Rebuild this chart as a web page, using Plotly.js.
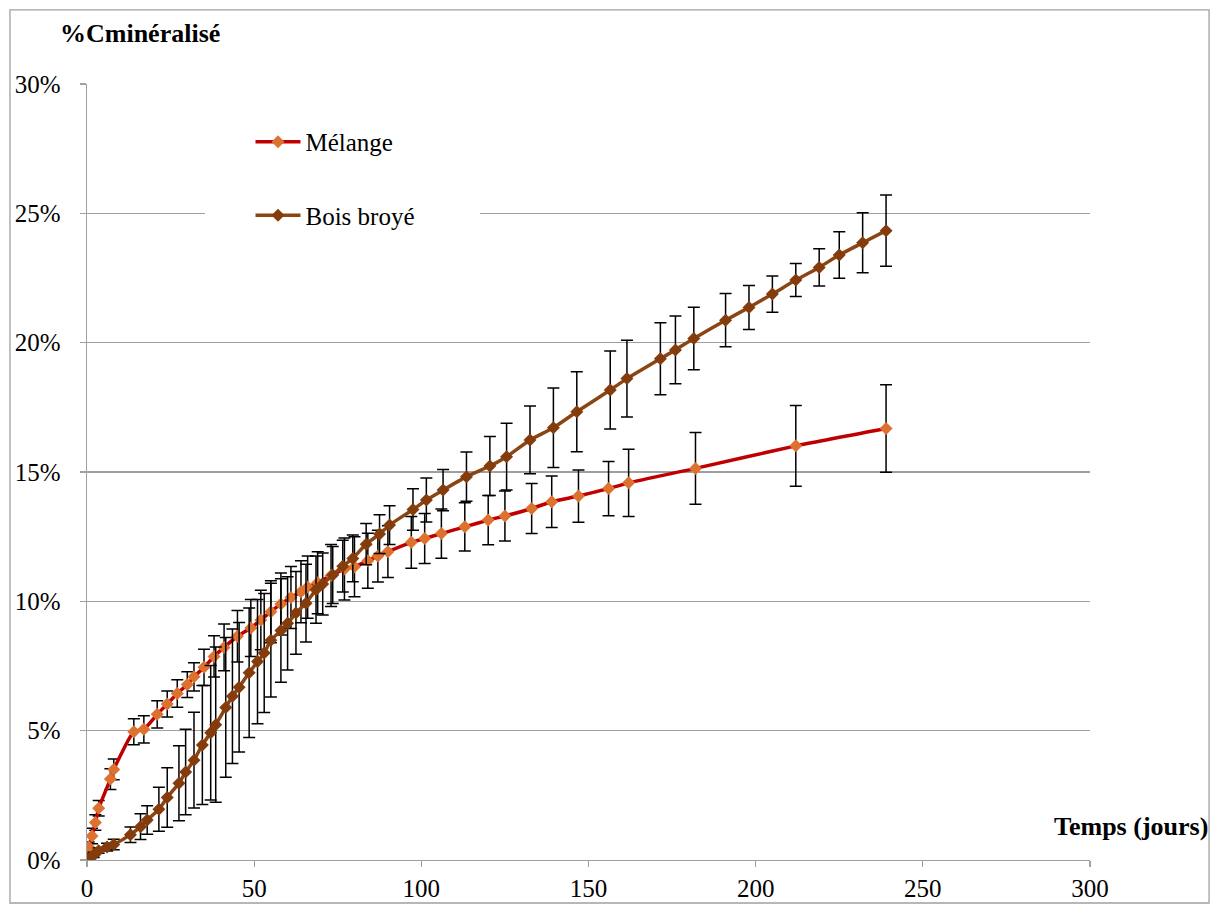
<!DOCTYPE html>
<html>
<head>
<meta charset="utf-8">
<script src="https://cdn.plot.ly/plotly-3.0.1.min.js"></script>
<style>html,body{margin:0;padding:0;background:#fff;}#chart{width:1211px;height:904px;}</style>
</head>
<body>
<div id="chart"></div>
<script>
// Mélange
var melangeDays = [0,0.5,1.5,2.5,3.5,7,8,14,17,21,24,27,30,32,35,38,41,45,49,52,55,58,61,64,66,69,73,77,80,84,87,90,97,101,106,113,120,125,133,139,147,156,162,182,212,239];
var melangeValues = [0,0.5,0.93,1.45,2.0,3.13,3.5,4.96,5.05,5.63,6.03,6.44,6.78,7.08,7.45,7.87,8.22,8.65,8.97,9.28,9.6,9.9,10.15,10.37,10.55,10.72,11.0,11.25,11.34,11.57,11.75,11.92,12.28,12.43,12.62,12.88,13.14,13.3,13.59,13.85,14.07,14.36,14.58,15.14,16.01,16.68];
var melangeErrors = [0,0.2,0.3,0.3,0.3,0.4,0.4,0.5,0.53,0.53,0.5,0.53,0.5,0.55,0.7,0.8,0.9,1.0,1.1,1.15,1.2,1.2,1.2,1.2,1.2,1.2,1.2,1.2,1.16,1.06,1.0,1.0,1.0,0.97,0.95,0.93,0.95,0.97,0.97,1.0,1.01,1.05,1.3,1.39,1.56,1.69];

// Bois broyé
var boisDays = [0,1,2,3.5,6,8,13,16,18,21.5,24,27.5,29.5,32,34.5,37,38.5,41.5,43.5,45.5,48.5,51,53,55,58,60,62.5,65.5,68.5,70.5,73.5,76.5,79.5,83.5,87.5,90.5,97.5,101.5,106.5,113.5,120.5,125.5,132.5,139.5,146.5,156.5,161.5,171.5,176,181.5,191,198,205,212,219,225,232,239];
var boisValues = [0,0.1,0.2,0.36,0.5,0.6,0.98,1.29,1.55,1.96,2.42,2.97,3.4,3.86,4.45,4.92,5.23,5.9,6.33,6.68,7.24,7.67,8.0,8.5,8.87,9.15,9.55,9.93,10.45,10.67,11.02,11.36,11.66,12.21,12.6,12.95,13.55,13.92,14.3,14.82,15.23,15.59,16.24,16.71,17.33,18.17,18.61,19.38,19.72,20.16,20.87,21.36,21.88,22.42,22.91,23.39,23.86,24.33];
var boisErrors = [0,0.05,0.1,0.1,0.15,0.2,0.3,0.5,0.55,0.85,1.15,1.45,1.65,1.85,2.3,2.6,3.0,2.7,2.6,2.5,2.5,2.4,2.3,2.2,2.0,1.8,1.6,1.5,1.3,1.2,1.1,1.0,0.9,0.8,0.75,0.75,0.8,0.85,0.8,0.95,1.14,1.29,1.31,1.54,1.55,1.51,1.48,1.39,1.31,1.21,1.03,0.85,0.7,0.64,0.72,0.9,1.16,1.38];

var xTicks = [0,50,100,150,200,250,300];
var yTicks = [0,5,10,15,20,25,30];

var FONT = "Liberation Serif";

var traces = [
  {
    x: melangeDays, y: melangeValues, name: 'Mélange', type: 'scatter', mode: 'lines+markers',
    legendgroup: 'a',
    line: {color: '#c00000', width: 3.5, shape: 'spline', smoothing: 0.5},
    marker: {symbol: 'diamond', size: 10, color: '#dd7230'},
    error_y: {type: 'data', array: melangeErrors, visible: true, color: '#000000', thickness: 1.5, width: 6}
  },
  {
    x: boisDays, y: boisValues, name: 'Bois broyé', type: 'scatter', mode: 'lines+markers',
    legendgroup: 'b',
    line: {color: '#8b4513', width: 3.5, shape: 'spline', smoothing: 0.5},
    marker: {symbol: 'diamond', size: 10, color: '#843c0c'},
    error_y: {type: 'data', array: boisErrors, visible: true, color: '#000000', thickness: 1.5, width: 6}
  }
];

var layout = {
  width: 1211, height: 904,
  margin: {l: 87, r: 121, t: 84, b: 44},
  paper_bgcolor: '#ffffff', plot_bgcolor: '#ffffff',
  font: {family: FONT, size: 25, color: '#000000'},
  showlegend: true,
  legend: {
    x: 0.163, y: 0.955, xanchor: 'left', yanchor: 'top',
    bgcolor: 'rgba(255,255,255,0)', borderwidth: 0,
    itemwidth: 45,
    font: {family: FONT, size: 25, color: '#000000'},
    traceorder: 'grouped', tracegroupgap: 38
  },
  xaxis: {
    range: [0, 300], tickvals: xTicks, ticktext: xTicks.map(String),
    showgrid: false, zeroline: false, showline: true, linecolor: '#a0a0a0', linewidth: 1.3,
    ticks: 'outside', ticklen: 6, tickcolor: '#a0a0a0', tickwidth: 1.3,
    tickfont: {family: FONT, size: 25, color: '#000000'}, fixedrange: true
  },
  yaxis: {
    range: [0, 30], tickvals: yTicks, ticktext: yTicks.map(function(v){return v + '%';}),
    showgrid: true, gridcolor: '#a0a0a0', gridwidth: 1.3,
    zeroline: false, showline: true, linecolor: '#a0a0a0', linewidth: 1.3,
    ticks: 'outside', ticklen: 6, tickcolor: '#a0a0a0', tickwidth: 1.3,
    ticklabelstandoff: 14,
    tickfont: {family: FONT, size: 25, color: '#000000'}, fixedrange: true
  },
  shapes: [
    {type: 'rect', xref: 'paper', yref: 'paper', x0: -0.0768, x1: 1.1187, y0: -0.0554, y1: 1.0954,
     line: {color: '#a0a0a0', width: 1.3}, fillcolor: 'rgba(0,0,0,0)', layer: 'below'},
    {type: 'rect', xref: 'paper', yref: 'paper', x0: 0.1176, x1: 0.3918, y0: 0.7925, y1: 0.9665,
     line: {width: 0}, fillcolor: '#ffffff', layer: 'above'}
  ],
  annotations: [
    {text: '<b>%Cminéralisé</b>', xref: 'paper', yref: 'paper', x: -0.0289, y: 1.0657,
     xanchor: 'left', yanchor: 'middle', showarrow: false, font: {family: FONT, size: 26, color: '#000000'}},
    {text: '<b>Temps (jours)</b>', xref: 'paper', yref: 'paper', x: 1.1196, y: 0.0438,
     xanchor: 'right', yanchor: 'middle', showarrow: false, font: {family: FONT, size: 26, color: '#000000'}}
  ]
};

Plotly.newPlot('chart', traces, layout, {displayModeBar: false, staticPlot: true});
</script>
</body>
</html>
